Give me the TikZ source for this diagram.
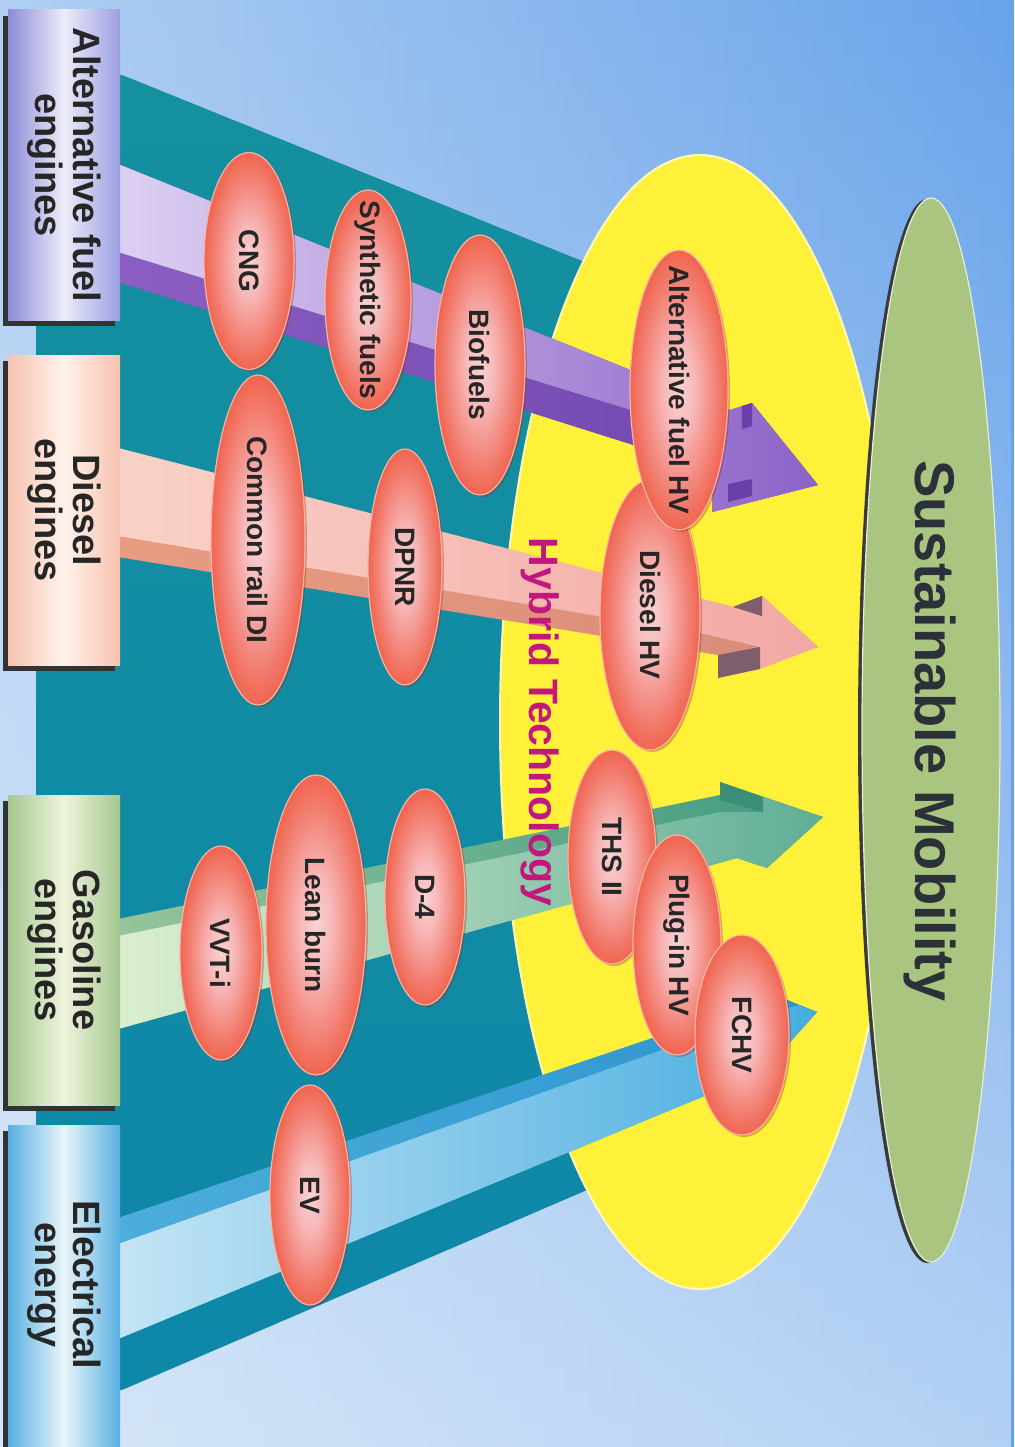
\documentclass[tikz,border=0pt]{standalone}
\usepackage{fontspec}
\setmainfont{Liberation Sans}
\usetikzlibrary{shapes.geometric,fadings,shadows}
\definecolor{bgl}{HTML}{B0CFF2}
\definecolor{bgr}{HTML}{68A3EA}
\definecolor{tealA}{HTML}{14909F}
\definecolor{tealB}{HTML}{0B80B4}
\definecolor{tealC}{HTML}{0E87A8}
\definecolor{yel}{HTML}{FFF03A}
\definecolor{yelrim}{HTML}{FFF9B8}
\definecolor{grn}{HTML}{A9C57F}
\definecolor{grnsh}{HTML}{3A3A3A}
\definecolor{purF1}{HTML}{DCD0F2}
\definecolor{purF2}{HTML}{8C62C8}
\definecolor{purS1}{HTML}{8A5EC2}
\definecolor{purS2}{HTML}{6E44AE}
\definecolor{purD}{HTML}{6A40A8}
\definecolor{pinkF1}{HTML}{FAD2C6}
\definecolor{pinkF2}{HTML}{F2A8A4}
\definecolor{pinkS1}{HTML}{E89C82}
\definecolor{pinkS2}{HTML}{D88C78}
\definecolor{pinkD}{HTML}{7E5E6C}
\definecolor{grnF1}{HTML}{DCEFD0}
\definecolor{grnF2}{HTML}{5FAE96}
\definecolor{grnS1}{HTML}{96C49A}
\definecolor{grnS2}{HTML}{3E9A80}
\definecolor{grnD}{HTML}{3A8E78}
\definecolor{bluF1}{HTML}{C4E4F5}
\definecolor{bluF2}{HTML}{45ACDF}
\definecolor{bluS1}{HTML}{4DAEDD}
\definecolor{bluS2}{HTML}{2B93CC}
\definecolor{egg0}{HTML}{F9D2D2}
\definecolor{egg1}{HTML}{F7B8B8}
\definecolor{egg2}{HTML}{F27C6E}
\definecolor{egg3}{HTML}{EE5236}
\definecolor{egg4}{HTML}{E84420}
\definecolor{eggrim}{HTML}{F5B4A4}
\definecolor{eggsh}{HTML}{A02818}
\definecolor{txtc}{HTML}{262626}
\definecolor{hyb}{HTML}{C2187E}
\definecolor{sus}{HTML}{2C3038}
\definecolor{altA}{HTML}{8E8CD8}
\definecolor{altB}{HTML}{9C9EE2}
\definecolor{altM}{HTML}{ECECF8}
\definecolor{dslA}{HTML}{F7C2B0}
\definecolor{dslM}{HTML}{FFF3EC}
\definecolor{gasA}{HTML}{A4C78F}
\definecolor{gasM}{HTML}{F0F4DC}
\definecolor{eleA}{HTML}{58B0E2}
\definecolor{eleM}{HTML}{EAF5F9}
\pgfdeclareradialshading{egg}{\pgfpoint{0bp}{0bp}}{color(0bp)=(egg0);color(8bp)=(egg1);color(20bp)=(egg2);color(29bp)=(egg3);color(35bp)=(egg4);color(50bp)=(egg4)}
\begin{document}
\begin{tikzpicture}[x=1pt,y=-1pt,
  egg/.style={ellipse, shading=egg, draw=eggrim, line width=1.2pt, inner sep=0pt,
    drop shadow={shadow xshift=2pt, shadow yshift=-2pt, opacity=.35, fill=eggsh}},
  eggtxt/.style={rotate=-90, font=\fontsize{28}{30}\selectfont\bfseries, text=txtc, inner sep=0pt},
  labbox/.style={rectangle, inner sep=0pt, draw=none,
    drop shadow={shadow xshift=-5pt, shadow yshift=-6pt, fill=black!80, opacity=1}},
  labtxt/.style={rotate=-90, font=\fontsize{38}{38}\selectfont\bfseries, text=txtc, align=center, inner sep=0pt},
]
\useasboundingbox (0,0) rectangle (1014,1447);
% sky
\shade[left color=bgl, right color=bgr] (0,0) rectangle (1014,1447);
\fill[white, path fading=north, fill opacity=.5] (0,0) rectangle (1014,1447);
% teal road
\shade[top color=tealA, middle color=tealB, bottom color=tealC]
  (36,75) -- (122,75) -- (780,341) -- (780,1107) -- (122,1390) -- (36,1390) -- cycle;
% big ellipses
\node[ellipse, minimum width=400pt, minimum height=1134pt, fill=yel, draw=yelrim, line width=2pt] (hybrid) at (700,722) {};
\fill[grnsh] (927,731) ellipse [x radius=69, y radius=532];
\node[ellipse, minimum width=138pt, minimum height=1064pt, fill=grn, draw=white!70!grn, line width=1.2pt] (sust) at (931,730) {};
% purple arrow
\shade[left color=purS1, right color=purS2] (118,164) -- (730,410) -- (752,403) -- (818,485) -- (712,512) -- (712,470) -- (118,282) -- cycle;
\shade[left color=purF1, right color=purF2] (118,164) -- (730,410) -- (752,403) -- (818,485) -- (712,512) -- (712,435) -- (118,252) -- cycle;
\fill[purD] (742,406) -- (752,403) -- (752,426) -- (742,429) -- cycle;
\fill[purD] (728,484) -- (752,479) -- (752,496) -- (728,502) -- cycle;
% pink arrow
\shade[left color=pinkS1, right color=pinkS2] (118,448) -- (733,607) -- (762,596) -- (818,647) -- (718,678) -- (718,655) -- (118,557) -- cycle;
\shade[left color=pinkF1, right color=pinkF2] (118,448) -- (733,607) -- (762,596) -- (818,647) -- (760,669) -- (760,647) -- (700,633) -- (118,536) -- cycle;
\fill[pinkD] (733,607) -- (762,596) -- (762,616) -- cycle;
\fill[pinkD] (718,655) -- (760,647) -- (760,669) -- (718,678) -- cycle;
% green arrow
\shade[left color=grnS1, right color=grnS2] (118,919) -- (720,795) -- (720,782) -- (823,817) -- (767,868) -- (737,858) -- (118,1029) -- cycle;
\shade[left color=grnF1, right color=grnF2] (118,936) -- (720,812) -- (763,812) -- (763,797) -- (823,817) -- (767,868) -- (737,858) -- (118,1029) -- cycle;
\fill[grnD] (720,782) -- (763,797) -- (763,812) -- (720,800) -- cycle;
% blue arrow
\shade[left color=bluS1, right color=bluS2] (118,1218) -- (765,1000) -- (775,995) -- (817,1012) -- (750,1087) -- (738,1082) -- (118,1339) -- cycle;
\shade[left color=bluF1, right color=bluF2] (118,1244) -- (768,1012) -- (800,1005) -- (817,1012) -- (750,1087) -- (738,1082) -- (118,1339) -- cycle;
% titles
\node[rotate=-90, font=\fontsize{41}{44}\selectfont\bfseries, text=hyb] (hybridt) at (540,722) {Hybrid Technology};
\node[rotate=-90, font=\fontsize{56}{60}\selectfont\bfseries, text=sus] (sustt) at (930,731) {Sustainable Mobility};
% technology ellipses
\node[egg, minimum width=90pt, minimum height=217pt] (cng) at (249,261) {};
\node[eggtxt] (cngt) at (cng) {CNG};
\node[egg, minimum width=86pt, minimum height=220pt] (syn) at (368,300) {};
\node[eggtxt] (synt) at (syn) {Synthetic fuels};
\node[egg, minimum width=90pt, minimum height=260pt] (bio) at (480,365) {};
\node[eggtxt] (biot) at (bio) {Biofuels};
\node[egg, minimum width=94pt, minimum height=330pt] (crdi) at (258,540) {};
\node[eggtxt] (crdit) at (crdi) {Common rail DI};
\node[egg, minimum width=74pt, minimum height=236pt] (dpnr) at (405,567) {};
\node[eggtxt] (dpnrt) at (dpnr) {DPNR};
\node[egg, minimum width=100pt, minimum height=270pt] (dhv) at (650,615) {};
\node[eggtxt] (dhvt) at (dhv) {Diesel HV};
\node[egg, minimum width=98pt, minimum height=280pt] (afhv) at (679,390) {};
\node[eggtxt] (afhvt) at (afhv) {Alternative fuel HV};
\node[egg, minimum width=88pt, minimum height=214pt] (ths) at (612,857) {};
\node[eggtxt] (thst) at (ths) {THS II};
\node[egg, minimum width=88pt, minimum height=220pt] (phv) at (677,945) {};
\node[eggtxt] (phvt) at (phv) {Plug-in HV};
\node[egg, minimum width=94pt, minimum height=200pt] (fchv) at (742,1035) {};
\node[eggtxt] (fchvt) at (fchv) {FCHV};
\node[egg, minimum width=80pt, minimum height=216pt] (d4) at (425,897) {};
\node[eggtxt] (d4t) at (d4) {D-4};
\node[egg, minimum width=82pt, minimum height=214pt] (vvti) at (221,953) {};
\node[eggtxt] (vvtit) at (vvti) {VVT-i};
\node[egg, minimum width=100pt, minimum height=300pt] (lean) at (316,925) {};
\node[eggtxt] (leant) at (lean) {Lean burn};
\node[egg, minimum width=80pt, minimum height=220pt] (ev) at (310,1195) {};
\node[eggtxt] (evt) at (ev) {EV};
% source boxes
\node[labbox, minimum width=112pt, minimum height=310pt, left color=altA, right color=altB, middle color=altM] (altbox) at (64,165) {};
\node[labtxt] (alttxt) at (altbox) {Alternative fuel\\engines};
\node[labbox, minimum width=112pt, minimum height=310pt, left color=dslA, right color=dslA, middle color=dslM] (dslbox) at (64,510) {};
\node[labtxt] (dsltxt) at (dslbox) {Diesel\\engines};
\node[labbox, minimum width=112pt, minimum height=310pt, left color=gasA, right color=gasA, middle color=gasM] (gasbox) at (64,950) {};
\node[labtxt] (gastxt) at (gasbox) {Gasoline\\engines};
\node[labbox, minimum width=112pt, minimum height=340pt, left color=eleA, right color=eleA, middle color=eleM] (elebox) at (64,1295) {};
\node[labtxt] (eletxt) at (64,1285) {Electrical\\energy};
\end{tikzpicture}
\end{document}
